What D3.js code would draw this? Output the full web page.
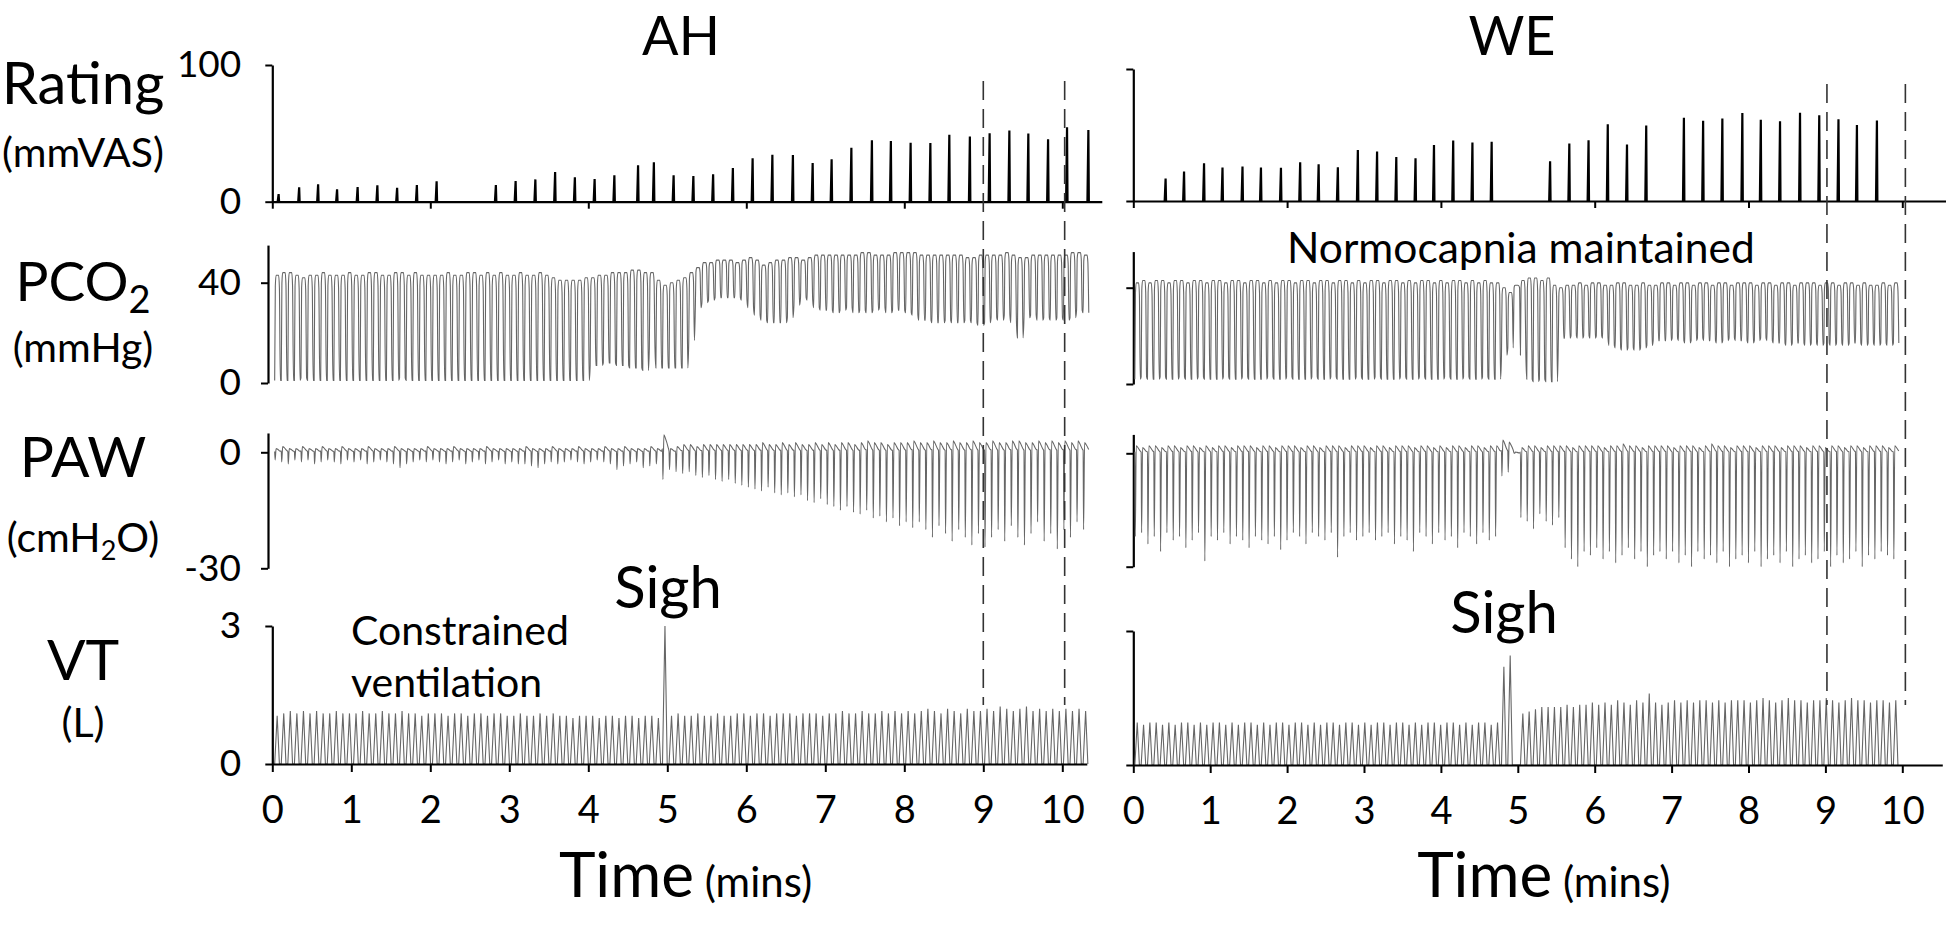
<!DOCTYPE html>
<html><head><meta charset="utf-8">
<script src="https://cdn.jsdelivr.net/npm/d3@7/dist/d3.min.js"></script>
<style>
html,body{margin:0;padding:0;background:#fff;}
svg{display:block;}
</style></head><body>
<svg id="chart" width="1946" height="935"></svg>
<script>
// ---------------- DATA ----------------
const panelTitles = ["AH", "WE"];
const minuteTicks = [0,1,2,3,4,5,6,7,8,9,10];
const ratingBaseTicks = [0,2,4,6,8,10];
const rowNames = ["Rating", "PCO", "PAW", "VT"];
const rowUnits = ["(mmVAS)", "(mmHg)", "(cmH", "(L)"];
const ratingTickValues = [0, 100];
const pco2TickValues = [0, 40];
const pawTickValues = [-30, 0];
const vtTickValues = [0, 3];
const dashedTimesAH = [9.0, 10.03];
const dashedTimesWE = [9.02, 10.04];

// Rating (mmVAS): time (min) and value of each rating spike
const ratingTimesAH = [0.08,0.34,0.58,0.82,1.08,1.33,1.58,1.83,2.08,2.83,3.08,3.33,3.58,3.83,4.08,4.33,4.63,4.83,5.08,5.33,5.58,5.83,6.08,6.33,6.59,6.84,7.08,7.33,7.59,7.83,8.08,8.33,8.57,8.83,9.08,9.33,9.57,9.82,10.06,10.33];
const ratingAH      = [5.6,10.5,12.7,9,10.7,12,10.2,12.2,14.9,12.2,15.1,16.3,21.7,17.8,16.6,19.3,26.6,28.8,19.3,18.8,20,24.6,31.7,34.4,34.1,28.3,31,39.5,44.9,44.4,43.2,42.9,49,47.6,50,52,49.8,45.6,54.4,52.4];
const ratingTimesWE = [0.42,0.66,0.92,1.16,1.42,1.66,1.92,2.17,2.41,2.66,2.92,3.17,3.42,3.67,3.91,4.16,4.41,4.66,5.42,5.67,5.92,6.17,6.42,6.67,7.16,7.41,7.66,7.92,8.16,8.41,8.67,8.92,9.17,9.41,9.67];
const ratingWE      = [17,22.3,28.6,25.3,26.1,25.3,25.1,29.4,27.8,25.6,38.7,37.5,33.4,32.4,42.5,45.8,44.3,44.8,30.1,43.5,46.1,58.2,42.8,57.2,63,60.8,62.5,66.6,61.5,60.5,66.8,65,62,57.5,61];

// Per-breath values, AH (124 breaths, one row ~ one minute)
const pco2PeakAH = [
 43,44,44,43,42,43,43,44,43,43,43,44,
 43,43,44,44,43,43,44,44,43,44,43,43,
 43,43,44,43,43,44,44,43,44,43,44,43,
 43,44,43,43,44,43,42,41,41,41,41,42,
 42,43,43,44,44,44,45,45,44,44,41,39,
 40,41,42,44,46,48,48,49,49,49,48,49,
 50,49,47,48,49,49,50,50,49,50,51,51,
 51,51,51,51,51,52,52,51,51,51,52,52,
 52,52,51,51,51,51,51,51,51,50,50,51,
 51,51,51,52,51,50,50,51,51,51,51,51,
 51,52,52,51];
const pco2TroughAH = [
 1,1,1,1,2,1,1,1,1,1,1,1,
 1,1,1,1,1,1,1,2,1,1,1,1,
 1,1,1,1,1,1,1,1,1,1,1,1,
 1,1,1,1,1,1,1,1,1,1,1,1,
 7,7,8,8,7,7,6,6,5,14,6,6,
 6,6,6,17,30,32,33,34,34,34,34,33,
 30,27,25,24,24,24,26,31,34,33,30,29,
 29,28,29,30,28,29,28,29,30,28,29,29,
 28,27,25,25,24,24,25,24,24,25,24,23,
 24,26,25,27,24,18,26,27,25,26,25,26,
 25,26,29,28];
const pawPeakAH = [
 1,1.5,1,1,1.5,1,1,1.5,1,1,1.5,1,
 1,1,1.5,1,1,1,1.5,1,1,1,1,1.5,
 1,1,1,1.5,1,1,1,1,1.5,1,1,1,
 1,1,1.5,1,1,1,1.5,1,1,1,1.5,1,
 1,1,1.5,1,1,1.5,1,1,1,1.5,1,4.5,
 1,1.5,2,2,1.5,2,2,2,2,2,2,2,
 2,2,2.5,2,2,2.5,2,2.5,2,2,2.5,2,
 2.5,2,2.5,2.5,2,2.5,3,2.5,2.5,2,2.5,2.5,
 2.5,3,2.5,2.5,3,2.5,2.5,3,2.5,2.5,3,2.5,
 2.5,3,2.5,2.5,3,3,2.5,2.5,3,2.5,3,2.5,
 3,2.5,3,2.5];
const pawTroughAH = [
 -2,-2.5,-3,-2,-2.5,-2,-3,-2.5,-2,-2.5,-3,-2,
 -2.5,-2,-3,-2.5,-2,-2.5,-3,-4,-3,-2.5,-2,-2.5,
 -2,-2.5,-3,-2.5,-2,-3,-2.5,-2,-3,-2.5,-2,-3,
 -2.5,-3,-3,-3.5,-4,-3,-2.5,-3,-2.5,-2,-2.5,-3,
 -2.5,-2,-2.5,-3,-4.5,-3.5,-3,-2.5,-4,-3.5,-3,-7,
 -4.5,-5,-5.5,-5,-6,-6.5,-6,-7,-7.5,-7,-8,-8.5,
 -9,-9.5,-10,-9,-10.5,-11,-10.5,-11.5,-11,-12.5,-13,-12,
 -13.5,-14,-15,-14,-15.5,-16,-15,-17,-16.5,-18,-17,-19,
 -18,-19.5,-18,-20,-22,-19,-21,-23,-20,-22,-24,-21,
 -24.5,-22,-20,-23,-19,-22,-24,-21,-18,-23,-21,-25,
 -20,-22,-18,-20];
const vtPeakAH = [
 1.05,1.1,1.15,1.1,1.15,1.1,1.15,1.1,1.1,1.15,1.1,1.1,
 1.1,1.15,1.1,1.1,1.15,1.1,1.1,1.15,1.1,1.1,1.05,1.1,
 1.1,1.1,1.05,1.1,1.1,1.05,1.1,1.1,1.05,1.1,1.1,1.05,
 1.05,1.1,1.05,1.05,1.1,1.05,1.1,1.05,1.05,1.0,1.05,1.05,
 1.05,1.0,1.05,1.05,1.0,1.05,1.05,1.0,1.05,1.05,1.0,3.0,
 1.05,1.1,1.05,1.05,1.1,1.05,1.05,1.1,1.05,1.05,1.1,1.1,
 1.05,1.1,1.1,1.05,1.1,1.1,1.1,1.05,1.1,1.1,1.1,1.05,
 1.1,1.1,1.15,1.1,1.1,1.15,1.1,1.1,1.15,1.1,1.15,1.1,
 1.15,1.1,1.15,1.2,1.15,1.1,1.2,1.15,1.1,1.2,1.15,1.15,
 1.2,1.15,1.25,1.2,1.15,1.2,1.25,1.15,1.2,1.15,1.2,1.15,
 1.2,1.15,1.2,1.15];

// Per-breath values, WE (121 breaths)
const pco2PeakWE = [
 42,43,42,43,43,42,43,43,42,43,43,42,
 43,43,42,43,43,42,43,43,42,43,42,43,
 43,42,43,43,42,43,43,42,43,43,42,43,
 42,43,43,42,43,43,42,43,42,43,43,42,
 43,42,43,43,42,43,42,43,42,42,40,38,
 41,43,44,44,43,44,41,40,41,41,42,41,
 42,42,41,41,42,42,41,41,42,41,41,42,
 42,41,42,42,41,42,42,41,42,42,41,42,
 42,42,41,42,42,41,42,42,41,42,42,42,
 41,42,42,41,42,42,41,42,41,41,42,41,
 42];
const pco2TroughWE = [
 2,3,2,2,3,2,2,3,2,2,3,2,
 2,2,3,2,2,3,2,2,2,3,2,2,
 3,2,2,2,3,2,2,3,2,2,2,3,
 2,2,3,2,2,2,3,2,2,3,2,2,
 2,3,2,2,3,2,2,3,2,2,12,15,
 40,12,2,1,2,1,1,19,19,20,19,20,
 19,20,19,16,15,14,15,14,15,16,18,18,
 18,19,18,17,18,19,18,18,17,18,19,18,
 18,17,18,19,18,17,17,16,17,17,16,17,
 16,17,16,17,16,17,17,16,17,16,17,16,
 17];
const pawPeakWE = [
 2,1.5,2,2,1.5,2,2,1.5,2,2,1.5,2,
 1.5,2,2,1.5,2,2,2,1.5,2,2,1.5,2,
 2,2,1.5,2,2,1.5,2,2,2,1.5,2,2,
 2,1.5,2,2,1.5,2,2,2,1.5,2,2,1.5,
 2,1.5,2,2,1.5,2,2,1.5,2,2,3.5,3,
 0.3,1.5,2,2,1.5,2,2,2,2,1.5,2,2,
 2,2,1.5,2,2,2.5,2,2,1.5,2,2,2,
 2,1.5,2,2,2,1.5,2,2.5,2,2,1.5,2,
 2,2,1.5,2,2,2,1.5,2,2,2,1.5,2,
 2,1.5,2,2,1.5,2,2,1.5,2,2,2,1.5,
 2];
const pawTroughWE = [
 -22,-21,-24,-22,-26,-21,-23,-22,-25,-23,-21,-28.5,
 -22,-23,-21,-24,-22,-23,-25,-22,-23,-24,-22,-25.5,
 -23,-21,-22,-24,-21,-22,-23,-21,-27.5,-22,-21,-23,
 -22,-21,-23,-22,-21,-24,-22,-23,-26,-21,-22,-24,
 -21,-23,-22,-25,-21,-22,-24,-21,-23,-22,-6,-5,
 0,-17,-18,-20,-16,-18,-19,-17,-25,-28,-30,-26,
 -27,-25,-28,-26,-29,-27,-25,-28,-26,-30,-27,-26,
 -28,-26,-29,-27,-30,-26,-28,-27,-29,-26,-30,-28,
 -27,-29,-26,-30,-28,-27,-29,-26,-30,-28,-27,-29,
 -28,-26,-30,-27,-29,-28,-26,-30,-27,-28,-26,-27,
 -28];
const vtPeakWE = [
 0.95,0.9,0.95,0.95,0.9,0.95,0.9,0.95,0.95,0.9,0.95,0.9,
 0.95,0.95,0.9,0.95,0.9,0.95,0.95,0.9,0.95,0.9,0.95,0.95,
 0.9,0.95,0.95,0.9,0.95,0.9,0.95,0.95,0.9,0.95,0.95,0.9,
 0.95,0.9,0.95,0.95,0.9,0.95,0.95,0.9,0.95,0.9,0.95,0.95,
 0.9,0.95,0.95,0.9,0.95,0.9,0.95,0.95,0.9,0.95,2.2,2.45,
 0,1.15,1.2,1.25,1.3,1.3,1.3,1.3,1.35,1.3,1.35,1.35,
 1.4,1.35,1.4,1.35,1.45,1.4,1.35,1.45,1.4,1.6,1.4,1.35,
 1.4,1.45,1.4,1.45,1.4,1.45,1.45,1.4,1.45,1.4,1.45,1.45,
 1.45,1.4,1.45,1.5,1.45,1.4,1.45,1.5,1.45,1.45,1.4,1.45,
 1.45,1.5,1.45,1.4,1.45,1.5,1.45,1.45,1.4,1.45,1.45,1.4,
 1.45];

// ---------------- LAYOUT ----------------
const FONT = "Lato, 'Open Sans', sans-serif";
const svg = d3.select("#chart");
const WAVE = "#666";

const panels = [
  { title: panelTitles[0], titleX: 681, start: 0.03, period: 0.0832,
    xr: [272.3, 272.3 + 79.0 * 10.31], xd: [0, 10.31], ratingEnd: 10.5,
    yRating: [201.7, 65], yPco2: [383, 282.7], yPaw: [568.3, 452.3], yVt: [764, 626],
    axX: 272.3, axXmid: 268, labels: true, dashes: dashedTimesAH, dashY: [81, 705],
    ratingT: ratingTimesAH, rating: ratingAH,
    co2Pk: pco2PeakAH, co2Tr: pco2TroughAH, pawPk: pawPeakAH, pawTr: pawTroughAH, vt: vtPeakAH },
  { title: panelTitles[1], titleX: 1512, start: 0.02, period: 0.0822,
    xr: [1133.3, 1133.3 + 76.9 * 10.52], xd: [0, 10.52], ratingEnd: 10.57,
    yRating: [201, 69], yPco2: [384, 287.7], yPaw: [566.7, 453.3], yVt: [765, 631],
    axX: 1133.3, axXmid: 1133.3, labels: false, dashes: dashedTimesWE, dashY: [84, 705],
    ratingT: ratingTimesWE, rating: ratingWE,
    co2Pk: pco2PeakWE, co2Tr: pco2TroughWE, pawPk: pawPeakWE, pawTr: pawTroughWE, vt: vtPeakWE }
];

function styleAxis(g, fs) {
  g.selectAll(".domain").attr("stroke", "#000").attr("stroke-width", 2.2);
  g.selectAll(".tick line").attr("stroke", "#000").attr("stroke-width", 2);
  g.selectAll("text").attr("font-family", FONT).attr("font-size", fs).attr("fill", "#000");
}

panels.forEach(p => {
  const x = d3.scaleLinear().domain(p.xd).range(p.xr);
  const yR = d3.scaleLinear().domain([0, 100]).range(p.yRating);
  const yC = d3.scaleLinear().domain([0, 40]).range(p.yPco2);
  const yP = d3.scaleLinear().domain([-30, 0]).range(p.yPaw);
  const yV = d3.scaleLinear().domain([0, 3]).range(p.yVt);
  const fmt = p.labels ? (d => String(d)) : () => "";

  // title
  svg.append("text").attr("x", p.titleX).attr("y", 55).attr("text-anchor", "middle")
    .attr("font-family", FONT).attr("font-size", 54).text(p.title);

  // ---- Rating row ----
  const gRy = svg.append("g").attr("transform", `translate(${p.axX},0)`)
    .call(d3.axisLeft(yR).tickValues(ratingTickValues).tickFormat(fmt).tickSize(7).tickSizeOuter(0).tickPadding(24));
  styleAxis(gRy, 37);
  const xRb = d3.scaleLinear().domain([0, p.ratingEnd]).range([x(0), x(p.ratingEnd)]);
  const gRx = svg.append("g").attr("transform", `translate(0,${yR(0)})`)
    .call(d3.axisBottom(xRb).tickValues(ratingBaseTicks).tickFormat(() => "").tickSize(7).tickSizeOuter(0));
  styleAxis(gRx, 10);
  const spike = d3.line().x(d => x(d[0])).y(d => yR(d[1]));
  svg.append("g").selectAll("path").data(p.ratingT.map((t, i) => [[t - 0.012, 0], [t, p.rating[i]], [t + 0.006, 0]]))
    .join("path").attr("d", spike).attr("fill", "none").attr("stroke", "#000").attr("stroke-width", 2.2);

  // ---- breath waveforms ----
  const tOf = i => p.start + i * p.period;
  // PCO2
  const co2Pts = [];
  p.co2Pk.forEach((pk, i) => {
    const tr = p.co2Tr[i], t0 = tOf(i), P = p.period;
    co2Pts.push([t0, tr], [t0 + 0.1 * P, tr + 0.9 * (pk - tr)], [t0 + 0.22 * P, pk], [t0 + 0.6 * P, pk],
                [t0 + 0.72 * P, tr + 0.88 * (pk - tr)], [t0 + 0.86 * P, tr]);
  });
  const gCy = svg.append("g").attr("transform", `translate(${p.axXmid},0)`)
    .call(d3.axisLeft(d3.scaleLinear().domain([0, 55]).range([yC(0), yC(55)]))
      .tickValues(pco2TickValues).tickFormat(fmt).tickSize(7).tickSizeOuter(0).tickPadding(20));
  styleAxis(gCy, 37);
  svg.append("path").datum(co2Pts)
    .attr("d", d3.line().x(d => x(d[0])).y(d => yC(d[1])).curve(d3.curveMonotoneX))
    .attr("fill", "none").attr("stroke", WAVE).attr("stroke-width", 1.1);

  // PAW
  const pawPts = [];
  p.pawPk.forEach((pk, i) => {
    const tr = p.pawTr[i], t0 = tOf(i), P = p.period;
    pawPts.push([t0, 0.2 * pk], [t0 + 0.07 * P, tr], [t0 + 0.22 * P, pk], [t0 + 0.45 * P, 0.8 * pk], [t0 + 0.85 * P, 0.3 * pk]);
  });
  const gPy = svg.append("g").attr("transform", `translate(${p.axXmid},0)`)
    .call(d3.axisLeft(d3.scaleLinear().domain([-30, 5]).range([yP(-30), yP(5)]))
      .tickValues(pawTickValues).tickFormat(fmt).tickSize(7).tickSizeOuter(0).tickPadding(20));
  styleAxis(gPy, 37);
  svg.append("path").datum(pawPts)
    .attr("d", d3.line().x(d => x(d[0])).y(d => yP(d[1])).curve(d3.curveMonotoneX))
    .attr("fill", "none").attr("stroke", WAVE).attr("stroke-width", 1.1);

  // VT
  const vtPts = [];
  p.vt.forEach((pk, i) => {
    const t0 = tOf(i), P = p.period;
    vtPts.push([t0, 0], [t0 + 0.38 * P, pk], [t0 + 0.72 * P, 0]);
  });
  const gVy = svg.append("g").attr("transform", `translate(${p.axX},0)`)
    .call(d3.axisLeft(yV).tickValues(vtTickValues).tickFormat(fmt).tickSize(7).tickSizeOuter(0).tickPadding(24));
  styleAxis(gVy, 37);
  svg.append("path").datum(vtPts)
    .attr("d", d3.line().x(d => x(d[0])).y(d => yV(d[1])))
    .attr("fill", "none").attr("stroke", WAVE).attr("stroke-width", 1.1);

  const gX = svg.append("g").attr("transform", `translate(0,${yV(0)})`)
    .call(d3.axisBottom(x).tickValues(minuteTicks).tickFormat(d => String(d)).tickSize(8).tickSizeOuter(0).tickPadding(24));
  styleAxis(gX, 38);

  // dashed markers
  svg.append("g").selectAll("line").data(p.dashes).join("line")
    .attr("x1", d => x(d)).attr("x2", d => x(d)).attr("y1", p.dashY[0]).attr("y2", p.dashY[1])
    .attr("stroke", "#333").attr("stroke-width", 1.6).attr("stroke-dasharray", "19,9");

  // Time label
  const tl = svg.append("text").attr("x", (p.xr[0] + p.xr[1]) / 2 + 6).attr("y", 897).attr("text-anchor", "middle")
    .attr("font-family", FONT);
  tl.append("tspan").attr("font-size", 62).text("Time");
  tl.append("tspan").attr("font-size", 42).text(" (mins)");
});

// ---- left row labels ----
function rowLabel(y, parts) {
  const t = svg.append("text").attr("x", 83).attr("y", y).attr("text-anchor", "middle").attr("font-family", FONT);
  parts.forEach(pt => { const s = t.append("tspan").attr("font-size", pt[1]).text(pt[0]); if (pt[2]) s.attr("dy", pt[2]); });
}
rowLabel(104, [[rowNames[0], 58]]);
rowLabel(167, [[rowUnits[0], 41]]);
rowLabel(301, [[rowNames[1], 55], ["2", 38, 12]]);
rowLabel(362, [[rowUnits[1], 41]]);
rowLabel(477, [[rowNames[2], 57]]);
rowLabel(552, [[rowUnits[2], 41], ["2", 27, 8], ["O)", 41, -8]]);
rowLabel(680, [[rowNames[3], 57]]);
rowLabel(737, [[rowUnits[3], 41]]);

// ---- annotations ----
svg.append("text").attr("x", 1287).attr("y", 263).attr("font-family", FONT).attr("font-size", 42.5).text("Normocapnia maintained");
svg.append("text").attr("x", 351).attr("y", 645).attr("font-family", FONT).attr("font-size", 41).text("Constrained");
svg.append("text").attr("x", 351).attr("y", 697).attr("font-family", FONT).attr("font-size", 41).text("ventilation");
svg.append("text").attr("x", 668).attr("y", 608).attr("text-anchor", "middle").attr("font-family", FONT).attr("font-size", 58).text("Sigh");
svg.append("text").attr("x", 1504).attr("y", 633).attr("text-anchor", "middle").attr("font-family", FONT).attr("font-size", 58).text("Sigh");
</script>
</body></html>
